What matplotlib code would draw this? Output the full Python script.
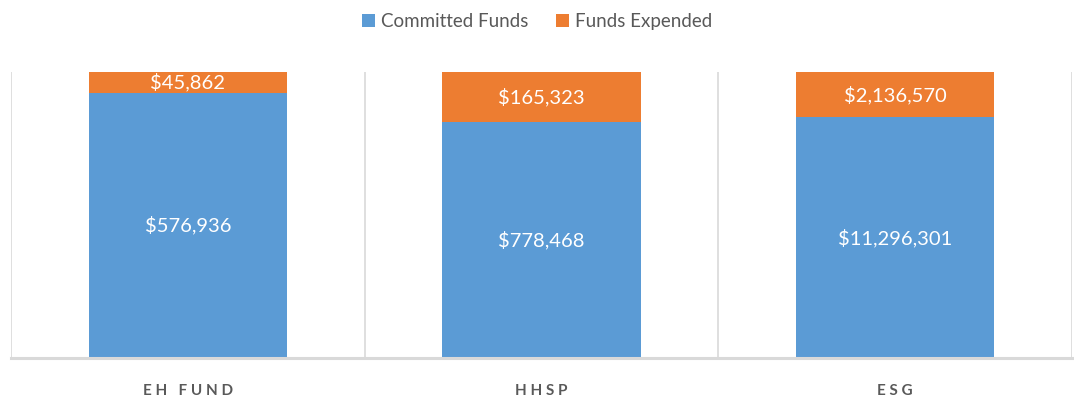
import matplotlib.pyplot as plt

categories = ["EH FUND", "HHSP", "ESG"]
committed = [576936, 778468, 11296301]
expended = [45862, 165323, 2136570]

blue = "#5B9BD5"
orange = "#ED7D31"
grid_color = "#D9D9D9"

plt.rcParams['font.family'] = ['Lato', 'DejaVu Sans']

fig = plt.figure(figsize=(10.74, 4.0), dpi=100)
ax = fig.add_axes([0.0102, 0.105, 0.988, 0.715])

# 100% stacked shares
totals = [c + e for c, e in zip(committed, expended)]
committed_pct = [c / t * 100 for c, t in zip(committed, totals)]
expended_pct = [e / t * 100 for e, t in zip(expended, totals)]

x = [i + 0.5 for i in range(len(categories))]
b1 = ax.bar(x, committed_pct, width=0.56, color=blue, label="Committed Funds", zorder=2)
b2 = ax.bar(x, expended_pct, width=0.56, bottom=committed_pct, color=orange,
            label="Funds Expended", zorder=2)

for xi, cp, ep, c, e in zip(x, committed_pct, expended_pct, committed, expended):
    ax.text(xi, cp / 2, f"${c:,}", ha="center", va="center", color="white", fontsize=14.5)
    ax.text(xi, cp + ep / 2, f"${e:,}", ha="center", va="center", color="white", fontsize=14.5)

# category separators like Excel
for v in range(len(categories) + 1):
    ax.axvline(v, color=grid_color, lw=1.2, zorder=1)

ax.set_xlim(0, len(categories))
ax.set_ylim(0, 100)
ax.set_yticks([])
ax.set_xticks(x)
ax.set_xticklabels([" ".join(c) for c in categories], fontsize=11,
                   fontweight="bold", color="#595959")
ax.tick_params(axis="x", length=0, pad=19)

for s in ["top", "left", "right"]:
    ax.spines[s].set_visible(False)
ax.spines["bottom"].set_color(grid_color)
ax.spines["bottom"].set_linewidth(2.2)

fig.legend(handles=[b1, b2], loc="upper center", bbox_to_anchor=(0.5, 1.01), ncol=2,
           frameon=False, fontsize=13.5, handlelength=0.7, handleheight=0.7,
           handletextpad=0.3, columnspacing=1.5, labelcolor="#595959")

fig.savefig("out.png", dpi=100)
